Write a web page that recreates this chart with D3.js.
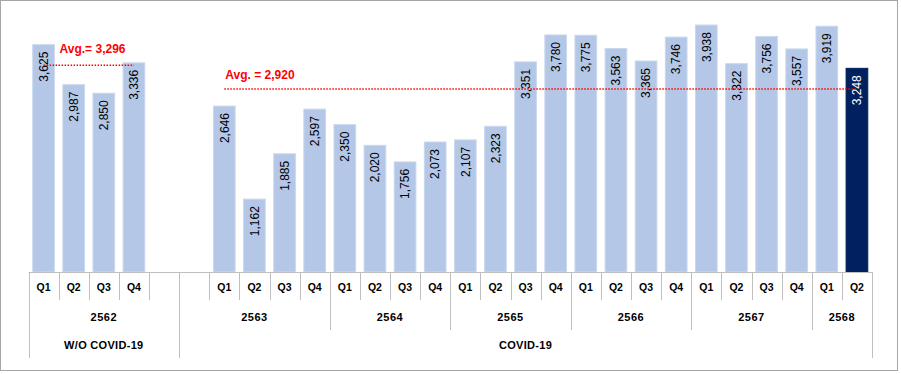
<!DOCTYPE html>
<html>
<head>
<meta charset="utf-8">
<script src="https://cdn.jsdelivr.net/npm/d3@7"></script>
<style>
  html, body { margin: 0; padding: 0; background: #fff; }
  svg { display: block; font-family: Arial, "Liberation Sans", sans-serif; }
</style>
</head>
<body>
<svg id="chart" width="901" height="374"></svg>
<script>
// ---- data ----
const categories = [
  "2562-Q1","2562-Q2","2562-Q3","2562-Q4","2562-x",
  "2563-x","2563-Q1","2563-Q2","2563-Q3","2563-Q4",
  "2564-Q1","2564-Q2","2564-Q3","2564-Q4",
  "2565-Q1","2565-Q2","2565-Q3","2565-Q4",
  "2566-Q1","2566-Q2","2566-Q3","2566-Q4",
  "2567-Q1","2567-Q2","2567-Q3","2567-Q4",
  "2568-Q1","2568-Q2"
];
const quarterLabels = [
  "Q1","Q2","Q3","Q4","",
  "","Q1","Q2","Q3","Q4",
  "Q1","Q2","Q3","Q4",
  "Q1","Q2","Q3","Q4",
  "Q1","Q2","Q3","Q4",
  "Q1","Q2","Q3","Q4",
  "Q1","Q2"
];
const values = [
  3625, 2987, 2850, 3336, null,
  null, 2646, 1162, 1885, 2597,
  2350, 2020, 1756, 2073,
  2107, 2323, 3351, 3780,
  3775, 3563, 3365, 3746,
  3938, 3322, 3756, 3557,
  3919, 3248
];
const highlight = "2568-Q2";
const yearLabels = ["2562","2563","2564","2565","2566","2567","2568"];
const yearSpans  = [5, 5, 4, 4, 4, 4, 2];
const periodLabels = ["W/O COVID-19", "COVID-19"];
const periodSpans  = [5, 23];
const avgLabels = ["Avg.= 3,296", "Avg. = 2,920"];
const avgValues = [3296, 2920];
const avgFrom   = ["2562-Q1", "2563-Q1"];
const avgTo     = ["2562-Q4", "2568-Q2"];

// ---- layout ----
const svg = d3.select("#chart");
const left = 28.5, right = 872, axisY = 272;
const pad = 0.28;

const x = d3.scaleBand().domain(categories).range([left, right])
  .paddingInner(pad).paddingOuter(pad / 2);
const y = d3.scaleLinear().domain([0, 4210]).range([axisY, 8]);
const step = x.step();
const slotStart = c => x(c) - step * pad / 2;

// frame
svg.append("rect").attr("x", 0.5).attr("y", 0.5).attr("width", 897).attr("height", 370)
  .attr("fill", "none").attr("stroke", "#a6a6a6");

// bars
const rows = categories.map((c, i) => ({ c, v: values[i], q: quarterLabels[i] }));
svg.append("g").selectAll("rect").data(rows.filter(d => d.v != null)).join("rect")
  .attr("x", d => x(d.c)).attr("width", x.bandwidth())
  .attr("y", d => y(d.v)).attr("height", d => y(0) - y(d.v))
  .attr("fill", d => d.c === highlight ? "#002060" : "#b4c7e7")
  .attr("stroke", d => d.c === highlight ? "#00205b" : "#cad8ee")
  .attr("stroke-width", 1);

// value labels
svg.append("g").selectAll("text").data(rows.filter(d => d.v != null)).join("text")
  .attr("transform", d => `translate(${x(d.c) + x.bandwidth() / 2},${y(d.v) + 7}) rotate(-90)`)
  .attr("dy", "0.35em")
  .attr("text-anchor", "end")
  .attr("font-size", 12)
  .attr("fill", d => d.c === highlight ? "#ffffff" : "#000000")
  .text(d => d3.format(",")(d.v));

// average lines
avgValues.forEach((v, i) => {
  const x1 = x(avgFrom[i]) + x.bandwidth() / 2;
  const x2 = x(avgTo[i]) + x.bandwidth() / 2;
  svg.append("line").attr("x1", x1).attr("x2", x2).attr("y1", y(v)).attr("y2", y(v))
    .attr("stroke", "#ff0000").attr("stroke-width", 1.5).attr("stroke-dasharray", "1.5,1.5");
  svg.append("text").attr("x", i === 0 ? x1 + 16 : x1 + 1).attr("y", i === 0 ? y(v) - 12 : y(v) - 10)
    .attr("font-size", 12).attr("font-weight", "bold").attr("fill", "#ff0000")
    .text(avgLabels[i]);
});

// axis
const axisColor = "#bfbfbf";
const ax = svg.append("g");
ax.append("line").attr("x1", left).attr("x2", right).attr("y1", axisY + 0.5).attr("y2", axisY + 0.5)
  .attr("stroke", axisColor);

// boundaries
const yearBounds = new Set(), periodBounds = new Set();
let idx = 0;
yearSpans.forEach(s => { yearBounds.add(idx); idx += s; yearBounds.add(idx); });
idx = 0;
periodSpans.forEach(s => { periodBounds.add(idx); idx += s; periodBounds.add(idx); });

for (let i = 0; i <= categories.length; i++) {
  const bx = Math.round(left + i * step) + 0.5;
  const len = periodBounds.has(i) ? 358 : (yearBounds.has(i) ? 330 : 300);
  ax.append("line").attr("x1", bx).attr("x2", bx).attr("y1", axisY).attr("y2", len)
    .attr("stroke", axisColor);
}

// quarter labels
ax.selectAll("text.q").data(rows).join("text").attr("class", "q")
  .attr("x", d => x(d.c) + x.bandwidth() / 2).attr("y", 291)
  .attr("text-anchor", "middle").attr("font-size", 10.5).attr("font-weight", "bold")
  .attr("fill", "#000").text(d => d.q);

// year labels
idx = 0;
yearSpans.forEach((s, i) => {
  const cx = left + (idx + s / 2) * step;
  ax.append("text").attr("x", cx).attr("y", 321).attr("text-anchor", "middle")
    .attr("font-size", 11).attr("font-weight", "bold").attr("letter-spacing", 0.5)
    .text(yearLabels[i]);
  idx += s;
});

// period labels
idx = 0;
periodSpans.forEach((s, i) => {
  const cx = left + (idx + s / 2) * step;
  ax.append("text").attr("x", cx).attr("y", 349).attr("text-anchor", "middle")
    .attr("font-size", 11).attr("font-weight", "bold").attr("letter-spacing", 0.3)
    .text(periodLabels[i]);
  idx += s;
});
</script>
</body>
</html>
